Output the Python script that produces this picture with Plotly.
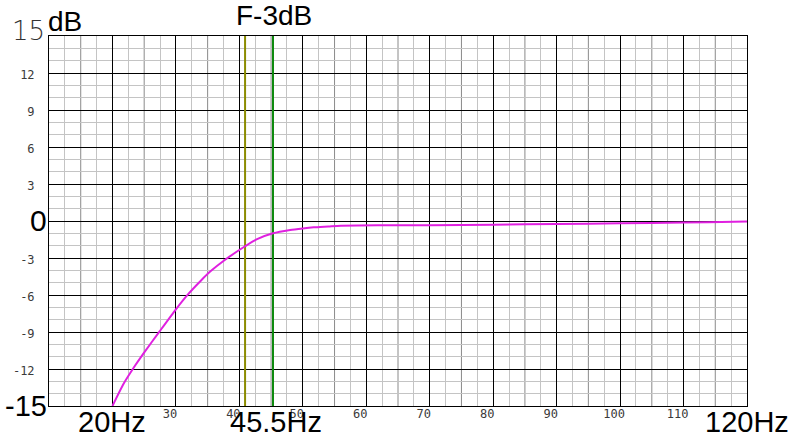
import plotly.graph_objects as go

# ---- data ----
freq_hz = [20, 21.8, 23.6, 24.9, 27.4, 30, 31.9, 34.0, 35.4, 37.7, 40.9, 42.7, 45.3,
           48, 50, 51.7, 54, 56, 62.3, 70, 80, 90, 100, 110, 118, 120]
resp_db = [-15, -13.16, -11.7, -10.73, -8.97, -7.16, -5.95, -4.8, -4.1, -3.16, -2.05, -1.49, -1.0,
           -0.73, -0.6, -0.51, -0.44, -0.38, -0.35, -0.34, -0.3, -0.24, -0.19, -0.13, -0.07, -0.05]

marker_olive_hz = 40.9
marker_green_hz = 45.3
marker_label = "45.5Hz"
title_text = "F-3dB"

x_major = [10, 20, 30, 40, 50, 60, 70, 80, 90, 100, 110, 120]
x_major_text = ["", "", "30", "40", "50", "60", "70", "80", "90", "100", "110", ""]
x_mid = [15, 25, 35, 45, 55, 65, 75, 85, 95, 105, 115]
x_minor = [12.5, 17.5, 22.5, 27.5, 32.5, 37.5, 42.5, 47.5, 52.5, 57.5, 62.5, 67.5,
           72.5, 77.5, 82.5, 87.5, 92.5, 97.5, 102.5, 107.5, 112.5, 117.5]
y_major = [-15, -12, -9, -6, -3, 0, 3, 6, 9, 12, 15]
y_major_text = ["", "-12", "-9", "-6", "-3", "", "3", "6", "9", "12", ""]
y_minor = [-14, -13, -11, -10, -8, -7, -5, -4, -2, -1, 1, 2, 4, 5, 7, 8, 10, 11, 13, 14]

X_RANGE = [10, 120]
Y_RANGE = [-15, 15]

fig = go.Figure()

fig.add_trace(go.Scatter(x=[marker_olive_hz, marker_olive_hz], y=Y_RANGE, mode="lines",
                         line=dict(color="#8c8c00", width=2), hoverinfo="skip"))
fig.add_trace(go.Scatter(x=[marker_green_hz, marker_green_hz], y=Y_RANGE, mode="lines",
                         line=dict(color="#0e8a0e", width=2), hoverinfo="skip"))
fig.add_trace(go.Scatter(x=freq_hz, y=resp_db, mode="lines",
                         line=dict(color="#e020e0", width=2, shape="spline", smoothing=0.6),
                         hoverinfo="skip"))

for xv in x_mid:
    fig.add_shape(type="line", xref="x", yref="paper", x0=xv, x1=xv, y0=0, y1=1,
                  line=dict(color="#8a8a8a", width=1), layer="between")

big = dict(family="Liberation Sans, Arial, sans-serif", size=29, color="black")

annos = [
    dict(x=X_RANGE[0], y=Y_RANGE[1], text="15", xanchor="right", yanchor="middle", xshift=-3, yshift=5,
         font=dict(family="DejaVu Sans", size=26, color="#333333", weight=200)),
    dict(x=X_RANGE[0], y=Y_RANGE[1], text="dB", xanchor="left", yanchor="middle", xshift=-2, yshift=15,
         font=dict(family="Liberation Sans, Arial, sans-serif", size=28, color="black")),
    dict(x=X_RANGE[0], y=0, text="0", xanchor="right", yanchor="middle", xshift=-1, yshift=1,
         font=dict(family="Liberation Sans, Arial, sans-serif", size=30, color="black")),
    dict(x=X_RANGE[0], y=Y_RANGE[0], text="-15", xanchor="right", yanchor="middle", xshift=-1, yshift=0,
         font=big),
    dict(x=20, y=Y_RANGE[0], text="20Hz", xanchor="center", yanchor="middle", yshift=-16, font=big),
    dict(x=marker_green_hz, y=Y_RANGE[0], text=marker_label, xanchor="center", yanchor="middle",
         xshift=3, yshift=-16, font=big),
    dict(x=120, y=Y_RANGE[0], text="120Hz", xanchor="center", yanchor="middle", yshift=-16, font=big),
    dict(x=marker_green_hz, y=Y_RANGE[1], text=title_text, xanchor="center", yanchor="middle",
         xshift=1, yshift=21, font=dict(family="Liberation Sans, Arial, sans-serif", size=28, color="black")),
]
for a in annos:
    a.update(xref="x", yref="y", showarrow=False, borderpad=0)
fig.update_layout(annotations=annos)

small = dict(family="DejaVu Sans Mono, monospace", size=12, color="#3a3a3a")

fig.update_xaxes(range=X_RANGE, tickmode="array", tickvals=x_major, ticktext=x_major_text,
                 showgrid=True, gridcolor="black", gridwidth=1, zeroline=False,
                 showline=True, linecolor="black", linewidth=1, mirror=True,
                 ticks="", tickfont=small, ticklabelshift=-6, ticklabelstandoff=-3,
                 minor=dict(tickmode="array", tickvals=x_minor, showgrid=True,
                            gridcolor="#c4c4c4", gridwidth=1, ticks=""))
fig.update_yaxes(range=Y_RANGE, tickmode="array", tickvals=y_major, ticktext=y_major_text,
                 showgrid=True, gridcolor="black", gridwidth=1, zeroline=False,
                 showline=True, linecolor="black", linewidth=1, mirror=True,
                 ticks="", tickfont=small, ticklabelstandoff=11, ticklabelshift=2,
                 minor=dict(tickmode="array", tickvals=y_minor, showgrid=True,
                            gridcolor="#c4c4c4", gridwidth=1, ticks=""))

fig.update_layout(width=796, height=442, margin=dict(l=49, r=49, t=36, b=36, pad=0),
                  paper_bgcolor="white", plot_bgcolor="white", showlegend=False)

fig.write_html("out.html", config={"displayModeBar": False},
               post_script="document.body.style.margin='0';document.body.style.overflow='hidden';")
